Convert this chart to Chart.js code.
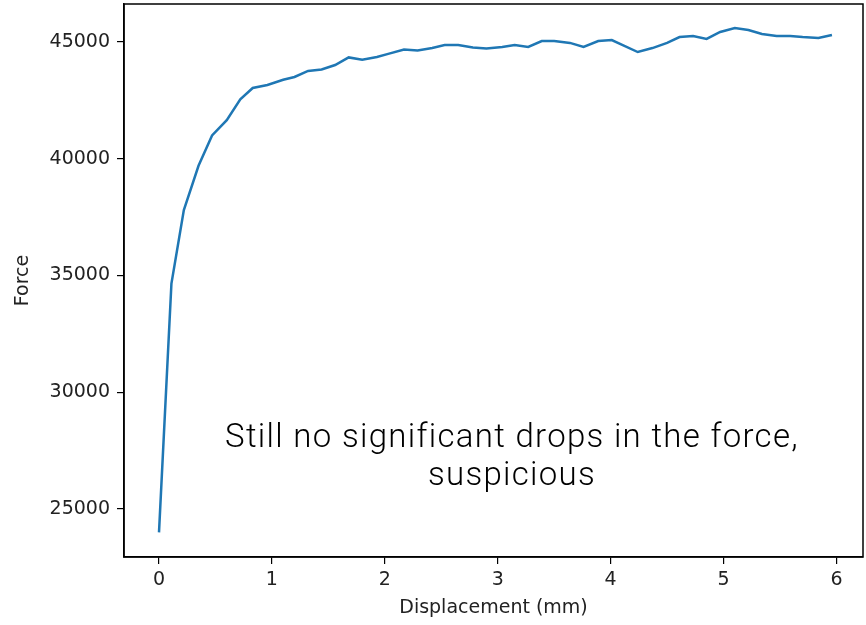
<!DOCTYPE html>
<html>
<head>
<meta charset="utf-8">
<script src="https://cdn.jsdelivr.net/npm/chart.js@4"></script>
<style>
  html, body { margin: 0; padding: 0; background: #fff; }
  #wrap { position: relative; width: 866px; height: 625px; }
  #note {
    position: absolute; left: 202px; top: 417px; width: 620px;
    font-family: "Roboto", "Liberation Sans", sans-serif; font-weight: 300;
    font-size: 33px; letter-spacing: 1.3px; line-height: 38px; text-align: center; color: #000;
  }
</style>
</head>
<body>
<div id="wrap">
  <canvas id="chart" width="866" height="625"></canvas>
  <div id="note">Still no significant drops in the force,<br>suspicious</div>
</div>
<script>
const displacement = [0, 0.11, 0.22, 0.35, 0.47, 0.6, 0.72, 0.83, 0.96, 1.1, 1.2, 1.32, 1.44, 1.56, 1.68, 1.8,
  1.93, 2.03, 2.17, 2.29, 2.42, 2.53, 2.65, 2.78, 2.9, 3.04, 3.15, 3.27, 3.39, 3.5, 3.64, 3.76, 3.89, 4.01,
  4.24, 4.37, 4.5, 4.61, 4.73, 4.85, 4.97, 5.1, 5.22, 5.34, 5.47, 5.59, 5.7, 5.84, 5.96];
const force = [24000, 34650, 37800, 39700, 41000, 41650, 42550, 43030, 43160, 43380, 43500, 43760, 43820, 44015, 44340, 44240,
  44360, 44490, 44680, 44640, 44740, 44870, 44870, 44760, 44720, 44785, 44870, 44785, 45040, 45040, 44960, 44785, 45040, 45085,
  44570, 44740, 44960, 45210, 45260, 45130, 45430, 45600, 45510, 45340, 45260, 45260, 45210, 45170, 45300];
const xTicks = [0, 1, 2, 3, 4, 5, 6];
const yTicks = [25000, 30000, 35000, 40000, 45000];

const tickFont = { family: 'DejaVu Sans', size: 19 };

// box round the plot, like the matplotlib frame
const frame = {
  id: 'frame',
  afterDraw(chart) {
    const a = chart.chartArea;
    const c = chart.ctx;
    c.save();
    c.strokeStyle = '#000';
    c.lineWidth = 1.5;
    c.strokeRect(a.left, a.top, a.right - a.left, a.bottom - a.top);
    c.restore();
  }
};

let ctx = document.getElementById('chart').getContext('2d');
let myChart = new Chart(ctx, {
  type: 'line',
  data: {
    datasets: [{
      data: displacement.map((x, i) => ({ x: x, y: force[i] })),
      borderColor: '#1f77b4',
      borderWidth: 2.5,
      pointRadius: 0,
      fill: false,
      tension: 0,
    }]
  },
  options: {
    responsive: false,
    animation: false,
    layout: { padding: { top: 4, right: 3, left: 0, bottom: 0 } },
    plugins: { legend: { display: false }, tooltip: { enabled: false } },
    scales: {
      x: {
        type: 'linear',
        position: 'bottom',
        min: -0.31,
        max: 6.235,
        afterBuildTicks: s => { s.ticks = xTicks.map(v => ({ value: v })); },
        afterFit: s => { s.height = 68; s.paddingLeft = 0; s.paddingRight = 0; },
        grid: { drawOnChartArea: false, drawTicks: true, tickLength: 7, color: '#000', lineWidth: 1.2 },
        border: { display: true, color: '#000', width: 1.5 },
        ticks: { color: '#222', font: tickFont, padding: 5, maxRotation: 0 },
        title: { display: true, text: 'Displacement (mm)', color: '#222', font: tickFont, padding: { top: 0, bottom: 6 } }
      },
      y: {
        type: 'linear',
        position: 'left',
        min: 22944,
        max: 46627,
        afterBuildTicks: s => { s.ticks = yTicks.map(v => ({ value: v })); },
        afterFit: s => { s.width = 124; s.paddingTop = 0; s.paddingBottom = 0; },
        grid: { drawOnChartArea: false, drawTicks: true, tickLength: 7, color: '#000', lineWidth: 1.2 },
        border: { display: true, color: '#000', width: 1.5 },
        ticks: { color: '#222', font: tickFont, padding: 7, callback: v => String(v) },
        title: { display: true, text: 'Force', color: '#222', font: tickFont, padding: { top: 12, bottom: 0 } }
      }
    }
  },
  plugins: [frame]
});
</script>
</body>
</html>
